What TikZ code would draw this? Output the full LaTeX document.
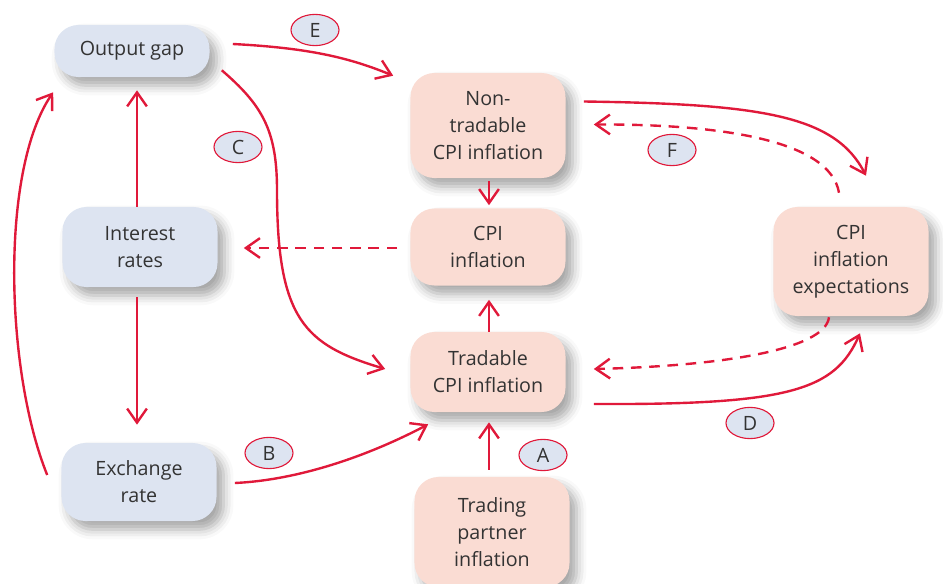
\documentclass[tikz,border=0pt]{standalone}
\usepackage{fontspec}
\setmainfont{Open Sans}
\usepackage{xcolor}
\usetikzlibrary{arrows.meta,shapes.geometric,calc,shadows.blur}
\definecolor{linkred}{HTML}{E0193A}
\definecolor{realblue}{HTML}{DDE4F1}
\definecolor{priceppink}{HTML}{FADCD3}
\definecolor{textgray}{HTML}{333333}

\begin{document}
\begin{tikzpicture}[x=0.025cm, y=-0.025cm, >={Straight Barb[length=10pt,width=14pt]},
  block/.style={rectangle, rounded corners=0.6cm, minimum width=3.875cm, align=center,
    text=textgray, font=\fontsize{14}{19.2}\selectfont,
    blur shadow={shadow xshift=5pt, shadow yshift=-6pt, shadow blur radius=7pt, shadow opacity=35}},
  realblock/.style={block, fill=realblue},
  priceblock/.style={block, fill=priceppink},
  tag/.style={ellipse, draw=linkred, line width=0.8pt, fill=realblue, minimum width=1.2cm,
    minimum height=0.78cm, inner sep=0pt, text=textgray, font=\fontsize{14}{16}\selectfont},
  link/.style={->, draw=linkred, line width=1.7pt},
  feedback/.style={link, dash pattern=on 7.5pt off 5.5pt}]
  \useasboundingbox (0,0) rectangle (943,584);

  % Define blocks
  \node [realblock, minimum height=1.3cm] (outgap) at (132,51) {Output gap};
  \node [realblock, minimum height=2cm] (interest) at (140,247) {Interest\\rates};
  \node [realblock, minimum height=1.95cm] (exchange) at (139,482) {Exchange\\rate};
  \node [priceblock, minimum height=2.625cm] (nontrad) at (488,125.5) {Non-\\tradable\\CPI inflation};
  \node [priceblock, minimum height=1.925cm] (cpi) at (488,247) {CPI\\inflation};
  \node [priceblock, minimum height=2cm] (trad) at (488,372) {Tradable\\CPI inflation};
  \node [priceblock, minimum height=2.75cm] (partner) at (492,532) {Trading\\partner\\inflation};
  \node [priceblock, minimum height=2.725cm] (expect) at (851,261.5) {CPI\\inflation\\expectations};

  % Connect blocks
  \draw [link] ($(outgap.east)+(23,-7)$) .. controls (310,48) and (350,58) .. ($(nontrad.north west)+(-17,3)$);
  \draw [link] ($(outgap.south east)+(12,-7)$) .. controls (262,105) and (277,130) .. (277,190)
    .. controls (277,320) and (305,345) .. ($(trad.west)+(-25,-3)$);
  \draw [link] ($(interest.north)+(-3,0)$) -- ($(outgap.south)+(5,13)$);
  \draw [link] ($(interest.south)+(-3,10)$) -- ($(exchange.north)+(-2,-18)$);
  \draw [link] ($(exchange.west)+(-14,-7)$) .. controls (5,370) and (0,170) .. ($(outgap.south west)+(-1,15)$);
  \draw [link] ($(exchange.east)+(18,1)$) .. controls (300,480) and (370,455) .. ($(trad.south west)+(18,12)$);
  \draw [feedback] ($(cpi.west)+(-13,1)$) -- ($(interest.east)+(26,1)$);
  \draw [link] ($(nontrad.south)+(1,3)$) -- ($(cpi.north)+(1,-3)$);
  \draw [link] ($(trad.north)+(1,0)$) -- ($(cpi.south)+(1,14)$);
  \draw [link] ($(partner.north)+(-3,-7)$) -- ($(trad.south)+(1,10)$);
  \draw [link] ($(nontrad.east)+(18,-24)$) .. controls (760,104) and (835,115) .. ($(expect.north)+(15,-31)$);
  \draw [feedback] ($(expect.north)+(-12,-14)$) .. controls (830,140) and (720,124) .. ($(nontrad.east)+(28,-1)$);
  \draw [feedback] ($(expect.south)+(-22,1)$) .. controls (825,350) and (720,366) .. ($(trad.east)+(28,-3)$);
  \draw [link] ($(trad.east)+(28,32)$) .. controls (790,405) and (835,390) .. ($(expect.south)+(9,17)$);

  % Channel tags
  \node [tag] (tagA) at (543,455) {A};
  \node [tag] (tagB) at (269,453) {B};
  \node [tag] (tagC) at (238,147) {C};
  \node [tag] (tagD) at (750,423) {D};
  \node [tag] (tagE) at (315,30) {E};
  \node [tag] (tagF) at (672,150) {F};
\end{tikzpicture}
\end{document}
